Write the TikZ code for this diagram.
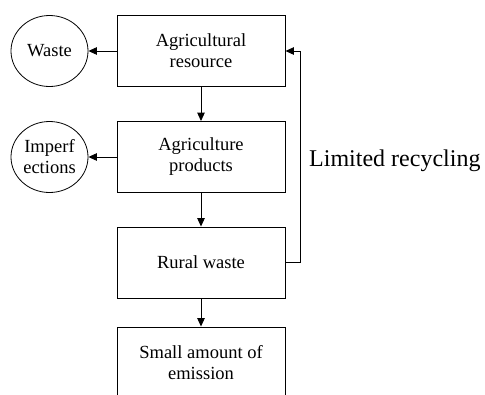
\documentclass[tikz,border=0pt]{standalone}
\usepackage{fontspec}
\setmainfont{Liberation Serif}
\usetikzlibrary{arrows.meta,shapes.geometric}
\begin{document}
\begin{tikzpicture}[x=1pt,y=-1pt,
  every node/.style={font=\fontsize{18.5}{21}\selectfont},
  stepbox/.style={draw,line width=0.9pt,minimum width=168pt,minimum height=71pt,inner sep=0pt,align=center},
  sidecircle/.style={draw,ellipse,line width=0.8pt,minimum width=77pt,minimum height=71pt,inner sep=0pt,align=center},
  flow/.style={line width=0.9pt,-{Triangle[length=8.5pt,width=7.5pt]}}]
\useasboundingbox (0,0) rectangle (485,394);
\clip (0,0) rectangle (485,394);
% main chain of boxes
\node[stepbox] (res) at (201,51) {Agricultural\\resource};
\node[stepbox] (prod) at (201,157) {Agriculture\\products};
\node[stepbox] (rural) at (201,262.5) {Rural waste};
\node[stepbox] (emis) at (201,362.5) {Small amount of\\emission};
% losses on the left
\node[sidecircle] (waste) at (49.5,51) {Waste};
\node[sidecircle] (imp) at (49.5,157) {Imperf\\ections};
% connectors
\draw[flow] (res) -- (prod);
\draw[flow] (prod) -- (rural);
\draw[flow] (rural) -- (emis);
\draw[flow] (res.west) -- (waste.east);
\draw[flow] (prod.west) -- (imp.east);
\coordinate (loop) at (300,262.5);
\draw[flow] (rural.east) -- (loop) |- (res.east);
\node[anchor=base west,inner sep=0pt,font=\fontsize{24}{28}\selectfont] (lbl) at (309,166) {Limited recycling};
\end{tikzpicture}
\end{document}
